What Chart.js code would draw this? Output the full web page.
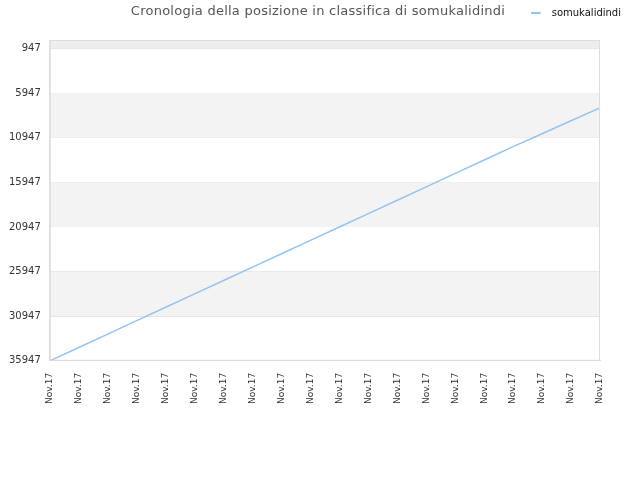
<!DOCTYPE html>
<html>
<head>
<meta charset="utf-8">
<script src="https://cdn.jsdelivr.net/npm/chart.js@4"></script>
<style>
  html, body { margin: 0; padding: 0; background: #fff; }
  #wrap { width: 640px; height: 480px; }
</style>
</head>
<body>
<div id="wrap"><canvas id="rankChart"></canvas></div>
<script>
// dati
const titleText = 'Cronologia della posizione in classifica di somukalidindi';
const seriesName = 'somukalidindi';
const dateLabels = ['Nov.17', 'Nov.17', 'Nov.17', 'Nov.17', 'Nov.17', 'Nov.17', 'Nov.17', 'Nov.17', 'Nov.17', 'Nov.17',
                    'Nov.17', 'Nov.17', 'Nov.17', 'Nov.17', 'Nov.17', 'Nov.17', 'Nov.17', 'Nov.17', 'Nov.17', 'Nov.17'];
const rankValues = [35947, 34450, 32950, 31450, 29950, 28450, 26950, 25450, 23950, 22450,
                    20950, 19450, 17950, 16450, 14950, 13450, 11950, 10500, 9050, 7600];
const rankTicks = [947, 5947, 10947, 15947, 20947, 25947, 30947, 35947];
const rankMin = 0;
const rankMax = 35947;

const lineColor = '#94c4f2';

// trattino della legenda: 10px di linea e spazio vuoto a destra
const legendDash = document.createElement('canvas');
legendDash.width = 16;
legendDash.height = 2;
const dctx = legendDash.getContext('2d');
dctx.fillStyle = lineColor;
dctx.fillRect(0, 0, 10, 2);

// bande grigie alternate + titolo centrato
const bandsPlugin = {
    id: 'bands',
    beforeInit(chart) {
        // spazio extra sotto la legenda
        if (chart.legend) {
            const fit = chart.legend.fit;
            chart.legend.fit = function () {
                fit.call(this);
                this.height += 12;
            };
        }
    },
    afterLayout(chart) {
        // la legenda sta più a destra dell'area del grafico
        if (chart.legend) {
            chart.legend.right += 29;
        }
    },
    beforeDatasetsDraw(chart) {
        const { ctx, chartArea, scales } = chart;
        const y = scales.y;
        ctx.save();
        // striscia sopra il primo tick
        ctx.fillStyle = '#eeeeee';
        const top0 = y.getPixelForValue(rankMin);
        const top1 = y.getPixelForValue(rankTicks[0]);
        ctx.fillRect(chartArea.left, top0, chartArea.right - chartArea.left, top1 - top0);
        ctx.fillStyle = '#f3f3f3';
        for (let i = 1; i < rankTicks.length - 1; i += 2) {
            const a = y.getPixelForValue(rankTicks[i]);
            const b = y.getPixelForValue(rankTicks[i + 1]);
            ctx.fillRect(chartArea.left, a, chartArea.right - chartArea.left, b - a);
        }
        ctx.restore();
    },
    afterDraw(chart) {
        const ctx = chart.ctx;
        ctx.save();
        ctx.font = '13px "DejaVu Sans"';
        ctx.letterSpacing = '0.25px';
        ctx.fillStyle = '#555';
        ctx.textAlign = 'center';
        ctx.textBaseline = 'middle';
        ctx.fillText(titleText, 318, 12);
        ctx.restore();
    }
};

const ctx = document.getElementById('rankChart').getContext('2d');
new Chart(ctx, {
    type: 'line',
    data: {
        labels: dateLabels,
        datasets: [{
            label: seriesName,
            data: rankValues,
            borderColor: lineColor,
            backgroundColor: lineColor,
            borderWidth: 1.5,
            pointRadius: 0,
            pointStyle: legendDash,
            tension: 0,
            fill: false
        }]
    },
    options: {
        responsive: true,
        maintainAspectRatio: false,
        animation: false,
        layout: { padding: { left: 0, right: 40, top: 0, bottom: 64 } },
        plugins: {
            title: { display: false },
            tooltip: { enabled: false },
            legend: {
                position: 'top',
                align: 'end',
                labels: {
                    usePointStyle: true,
                    pointStyleWidth: 16,
                    color: '#111',
                    font: { family: 'DejaVu Sans', size: 10 },
                    padding: 8
                }
            }
        },
        scales: {
            x: {
                offset: false,
                grid: { display: false, drawTicks: false },
                border: { display: true, color: '#dddddd' },
                ticks: {
                    autoSkip: false,
                    minRotation: 90,
                    maxRotation: 90,
                    color: '#333',
                    font: { family: 'DejaVu Sans', size: 9 },
                    padding: 12
                }
            },
            y: {
                reverse: true,
                min: rankMin,
                max: rankMax,
                afterBuildTicks(axis) {
                    axis.ticks = rankTicks.map(v => ({ value: v }));
                },
                grid: { color: '#e2e2e2', drawTicks: false },
                border: { display: true, color: '#dddddd' },
                ticks: {
                    color: '#333',
                    font: { family: 'DejaVu Sans', size: 10 },
                    padding: 9,
                    callback: v => String(v)
                }
            }
        }
    },
    plugins: [bandsPlugin, {
        id: 'frame',
        afterDatasetsDraw(chart) {
            const { ctx, chartArea } = chart;
            ctx.save();
            ctx.strokeStyle = '#dddddd';
            ctx.lineWidth = 1;
            ctx.strokeRect(chartArea.left + 0.5, chartArea.top + 0.5,
                chartArea.right - chartArea.left - 1, chartArea.bottom - chartArea.top - 1);
            ctx.restore();
        }
    }]
});
</script>
</body>
</html>
